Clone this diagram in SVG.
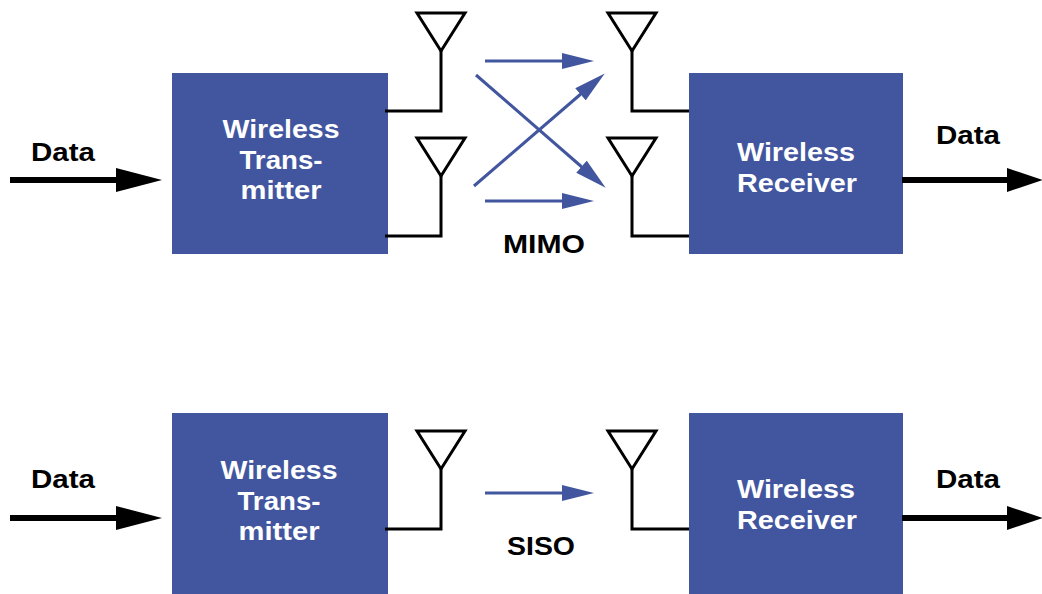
<svg xmlns="http://www.w3.org/2000/svg" width="1042" height="594" viewBox="0 0 1042 594">
<defs>
<marker id="bk" markerUnits="userSpaceOnUse" markerWidth="48" markerHeight="26" refX="2" refY="13" orient="auto"><path d="M0 1L46 13L0 25Z" fill="#000"/></marker>
<marker id="bkr" markerUnits="userSpaceOnUse" markerWidth="38" markerHeight="26" refX="2" refY="13" orient="auto"><path d="M0 1L36 13L0 25Z" fill="#000"/></marker>
<marker id="bl" markerUnits="userSpaceOnUse" markerWidth="32" markerHeight="16" refX="2" refY="8" orient="auto"><path d="M0 0L32 8L0 16Z" fill="#42569f"/></marker>
<polygon id="ant" points="-24,0 24,0 0,38" fill="#fff" stroke="#000" stroke-width="3"/>
</defs>
<style>
.box{fill:#42569f}
.w{font:bold 25px "Liberation Sans",Arial,sans-serif;fill:#fff;text-anchor:middle}
.k{font:bold 25px "Liberation Sans",Arial,sans-serif;fill:#000;text-anchor:middle}
.d{fill:none;stroke:#000;stroke-width:6;marker-end:url(#bk)}
.dr{fill:none;stroke:#000;stroke-width:6;marker-end:url(#bkr)}
.a{fill:none;stroke:#000;stroke-width:3}
.b{fill:none;stroke:#42569f;stroke-width:3;marker-end:url(#bl)}
</style>
<g id="tx1"><rect class="box" x="172" y="73" width="216" height="181"/><text class="w" x="281" y="138" textLength="117" lengthAdjust="spacingAndGlyphs">Wireless</text><text class="w" x="281" y="169" textLength="83" lengthAdjust="spacingAndGlyphs">Trans-</text><text class="w" x="281" y="199" textLength="81" lengthAdjust="spacingAndGlyphs">mitter</text></g>
<g id="rx1"><rect class="box" x="689" y="73" width="214" height="181"/><text class="w" x="796" y="161" textLength="118" lengthAdjust="spacingAndGlyphs">Wireless</text><text class="w" x="797" y="192" textLength="120" lengthAdjust="spacingAndGlyphs">Receiver</text></g>
<g id="tx2"><rect class="box" x="172" y="413" width="216" height="181"/><text class="w" x="279" y="479" textLength="117" lengthAdjust="spacingAndGlyphs">Wireless</text><text class="w" x="279" y="510" textLength="83" lengthAdjust="spacingAndGlyphs">Trans-</text><text class="w" x="279" y="540" textLength="81" lengthAdjust="spacingAndGlyphs">mitter</text></g>
<g id="rx2"><rect class="box" x="689" y="413" width="214" height="181"/><text class="w" x="796" y="498" textLength="118" lengthAdjust="spacingAndGlyphs">Wireless</text><text class="w" x="797" y="529" textLength="120" lengthAdjust="spacingAndGlyphs">Receiver</text></g>
<g id="ant1"><use href="#ant" x="441" y="13"/></g>
<g id="ant2"><use href="#ant" x="441" y="138"/></g>
<g id="ant3"><use href="#ant" x="632" y="13"/></g>
<g id="ant4"><use href="#ant" x="632" y="138"/></g>
<g id="ant5"><use href="#ant" x="441" y="431"/></g>
<g id="ant6"><use href="#ant" x="632" y="431"/></g>
<g id="connectors">
<path class="d" d="M10 180H118"/><path class="dr" d="M902 180H1009"/>
<path class="d" d="M10 518H118"/><path class="dr" d="M902 518H1009"/>
<path class="a" d="M385 111H441V50"/><path class="a" d="M385 236H441V175"/>
<path class="a" d="M689 111H632V50"/><path class="a" d="M689 236H632V175"/>
<path class="a" d="M385 529H441V468"/><path class="a" d="M689 529H632V468"/>
<path class="b" d="M485 61H564"/><path class="b" d="M485 201H564"/><path class="b" d="M485 493H564"/>
<path class="b" d="M476 75L583 168"/><path class="b" d="M474 186L582 93"/>
</g>
<g id="labels">
<text class="k" x="63" y="161" textLength="64" lengthAdjust="spacingAndGlyphs">Data</text><text class="k" x="968" y="144" textLength="64" lengthAdjust="spacingAndGlyphs">Data</text>
<text class="k" x="63" y="488" textLength="64" lengthAdjust="spacingAndGlyphs">Data</text><text class="k" x="968" y="488" textLength="64" lengthAdjust="spacingAndGlyphs">Data</text>
<text class="k" x="544" y="253" textLength="82" lengthAdjust="spacingAndGlyphs">MIMO</text><text class="k" x="541" y="555" textLength="68" lengthAdjust="spacingAndGlyphs">SISO</text>
</g>
</svg>
